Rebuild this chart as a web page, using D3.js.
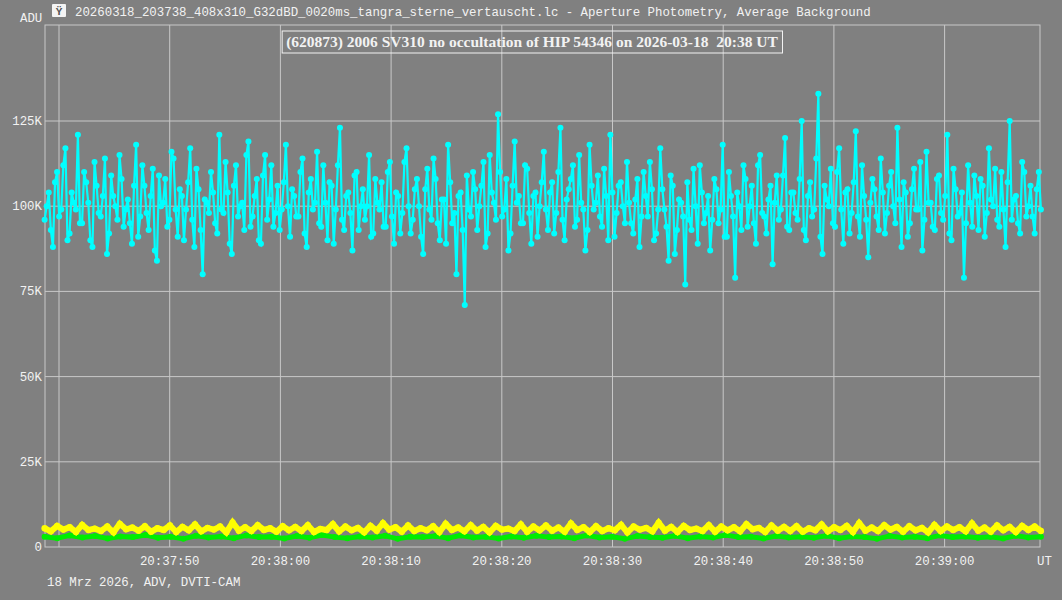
<!DOCTYPE html>
<html><head><meta charset="utf-8">
<script src="https://cdn.jsdelivr.net/npm/d3@7"></script>
<style>body{margin:0;background:#808080;}svg{display:block}</style>
</head><body><svg id="c" width="1062" height="600"></svg>
<script>
const startSec = 38.7;   // seconds after 20:37:00
const endSec = 128.7;
const cyanK = [
96,104,88,110,99,117,92,101,121,95,107,90,113,98,103,86,109,100,115,94,
102,89,118,97,106,93,111,84,100,108,96,114,91,103,99,117,88,105,80,101,
110,95,121,98,104,86,112,100,93,119,97,108,89,115,102,94,106,99,118,91,
103,97,114,88,108,101,95,112,90,106,99,123,93,104,87,110,100,96,115,92,
101,107,94,113,89,103,98,117,92,105,100,86,111,96,108,90,102,118,95,80,
104,71,99,110,93,106,88,115,101,127,97,108,92,119,103,95,111,89,104,100,
116,93,107,98,123,90,105,112,96,101,87,118,99,109,94,103,121,91,106,100,
113,95,102,88,110,97,105,92,117,99,84,106,93,101,77,96,111,89,104,98,
87,108,95,118,91,103,79,100,112,94,106,89,115,97,102,83,109,99,120,93,
104,96,125,90,107,99,133,86,102,111,94,117,89,105,98,122,91,103,85,108,
97,114,92,106,100,123,88,104,95,111,99,87,116,101,93,109,96,121,90,105,
98,79,112,94,103,108,91,117,100,96,110,88,125,102,95,113,97,106,92,110];
const cyanK2 = [
100,93,107,97,112,90,104,99,95,110,101,88,106,97,114,92,103,96,108,99,
95,106,91,112,98,103,87,109,101,94,116,99,105,90,107,96,111,93,102,98,
104,92,99,113,89,106,97,101,115,94,103,90,109,96,112,98,93,107,100,105,
97,110,92,104,99,116,94,101,107,89,112,96,103,98,109,93,105,100,91,108,
99,94,110,97,104,92,113,100,96,108,91,105,99,114,95,102,89,107,98,103,
93,109,97,105,100,113,92,104,96,110,99,87,106,101,95,112,98,103,91,107,
99,104,92,110,96,102,108,94,115,99,93,106,101,97,111,90,104,98,107,95,
101,92,108,97,103,113,90,99,105,94,109,86,102,97,107,93,100,112,95,103,
96,105,99,91,110,97,104,93,108,100,95,112,98,92,106,101,96,109,94,104,
98,108,93,103,97,114,91,106,100,95,110,99,104,92,107,97,112,96,101,105,
93,104,98,110,95,102,107,91,105,99,113,96,101,94,108,98,103,92,111,97,
104,95,101,109,93,106,98,102,111,94,99,107,96,103,92,110,100,97,105,99];
const yellowK = [
5.5,6.2,5.8,6.5,5.4,6.0,6.8,5.7,6.1,5.5,6.3,5.9,6.6,5.6,6.0,7.2,5.8,6.4,5.5,6.1,
5.9,6.4,5.3,6.7,6.0,5.6,6.2,7.0,5.8,6.3,5.5,6.1,6.8,5.7,6.4,5.9,6.2,5.4,6.6,6.0,
6.3,5.7,6.9,5.8,6.1,5.5,6.5,6.0,5.6,7.1,5.9,6.2,5.4,6.4,6.0,5.8,6.7,5.6,6.3,5.9,
6.1,5.5,6.6,5.8,6.2,7.0,5.7,6.4,5.9,6.1,5.6,6.5,6.0,5.8,6.9,5.7,6.3,5.9,6.2,6.0];
const yellowK2 = [
4.6,5.1,4.4,5.0,4.7,4.3,5.2,4.8,4.5,5.0,4.4,4.9,4.6,5.1,4.3,4.8,4.7,5.0,4.5,4.9,
4.7,4.4,5.0,4.6,4.9,4.3,4.8,5.1,4.5,4.7,4.9,4.4,5.0,4.6,4.8,4.3,5.1,4.7,4.5,4.9,
4.8,4.5,5.0,4.4,4.7,4.9,4.3,5.1,4.6,4.8,4.4,5.0,4.7,4.5,4.9,4.6,5.2,4.4,4.8,4.7,
4.5,4.9,4.6,5.0,4.4,4.8,4.7,5.1,4.5,4.9,4.3,4.7,5.0,4.6,4.8,4.5,4.9,4.4,5.0,4.7];
const greenK = [
3.0,2.6,3.4,2.8,3.2,2.5,3.1,2.9,3.5,2.7,3.0,2.4,3.3,2.8,3.1,2.6,3.4,2.9,3.0,2.5,
3.2,2.7,3.5,2.9,2.6,3.1,2.8,3.3,2.4,3.0,2.9,3.2,2.6,3.4,2.8,3.0,2.5,3.1,2.7,3.3,
2.9,3.1,2.6,3.4,2.8,3.0,2.4,3.2,2.9,2.7,3.3,2.6,3.1,2.8,3.5,2.9,3.0,2.5,3.2,2.8,
3.0,2.7,3.3,2.6,3.1,2.9,2.4,3.2,2.8,3.0,2.6,3.4,2.9,3.1,2.7,3.0,2.5,3.3,2.8,3.0];
const yTicks = [0,25,50,75,100,125];
const yTickLabels = ["0","25K","50K","75K","100K","125K"];
const xTicks = [40,50,60,70,80,90,100,110,120];
const xTickLabels = ["20:37:40","20:37:50","20:38:00","20:38:10","20:38:20","20:38:30","20:38:40","20:38:50","20:39:00"];
const titleFile = "20260318_203738_408x310_G32dBD_0020ms_tangra_sterne_vertauscht.lc - Aperture Photometry, Average Background";
const titleBox = "(620873) 2006 SV310 no occultation of HIP 54346 on 2026-03-18  20:38 UT";
const footer = "18 Mrz 2026, ADV, DVTI-CAM";

const svg = d3.select("#c");
const L=45,R=1040,T=25,B=547;
const y = d3.scaleLinear().domain([0,25]).range([B,B-85.2]);
const x = d3.scaleLinear().domain([40,50]).range([59,169.7]);
const mono = "'Liberation Mono','DejaVu Sans Mono',monospace";
const grid = "#c8c8c8", txt="#f2f2f2";

svg.append("g").selectAll("line").data(yTicks.slice(1)).join("line")
 .attr("x1",L).attr("x2",R).attr("y1",d=>y(d)).attr("y2",d=>y(d)).attr("stroke",grid);
svg.append("g").selectAll("line").data(xTicks).join("line")
 .attr("y1",T).attr("y2",B).attr("x1",d=>x(d)).attr("x2",d=>x(d)).attr("stroke",grid);
svg.append("rect").attr("x",L).attr("y",T).attr("width",R-L).attr("height",B-T).attr("fill","none").attr("stroke",grid);

function interleave(a,b){const o=[];for(let i=0;i<a.length;i++){o.push(a[i]);if(i<b.length)o.push(b[i]);}return o;}
function series(vals,color,r,w){
  const step=(endSec-startSec)/(vals.length-1);
  const pts=vals.map((v,i)=>[x(startSec+i*step),y(v)]);
  svg.append("path").attr("d",d3.line()(pts)).attr("fill","none").attr("stroke",color).attr("stroke-width",w);
  svg.append("g").selectAll("circle").data(pts).join("circle").attr("cx",d=>d[0]).attr("cy",d=>d[1]).attr("r",r).attr("fill",color);
}
series(greenK,"#00ee00",3,5);
series(interleave(yellowK,yellowK2),"#ffff00",3.2,6);
series(interleave(cyanK,cyanK2),"#00ffff",3,2.2);

svg.append("g").selectAll("text").data(yTicks).join("text")
 .attr("x",42).attr("y",d=>y(d)+4).attr("text-anchor","end").attr("font-family",mono).attr("font-size",12.4).attr("fill",txt)
 .text((d,i)=>yTickLabels[i]);
svg.append("g").selectAll("text").data(xTicks.slice(1)).join("text")
 .attr("x",d=>x(d)).attr("y",565).attr("text-anchor","middle").attr("font-family",mono).attr("font-size",12.4).attr("fill",txt)
 .text((d,i)=>xTickLabels[i+1]);
svg.append("text").attr("x",1037).attr("y",565).attr("font-family",mono).attr("font-size",12.4).attr("fill",txt).text("UT");
svg.append("text").attr("x",20).attr("y",22).attr("font-family",mono).attr("font-size",12.4).attr("fill",txt).text("ADU");
svg.append("text").attr("x",47).attr("y",586).attr("font-family",mono).attr("font-size",12.4).attr("fill",txt).text(footer);
svg.append("rect").attr("x",52).attr("y",4).attr("width",14).attr("height",13).attr("fill","#f4f4f4").attr("rx",1);
svg.append("text").attr("x",59).attr("y",15).attr("text-anchor","middle").attr("font-family",mono).attr("font-size",11).attr("font-weight","bold").attr("fill","#555").text("Ϋ");
svg.append("text").attr("x",75).attr("y",16).attr("font-family",mono).attr("font-size",12.4).attr("fill",txt).text(titleFile);
const tt = svg.append("text").attr("x",532).attr("y",47).attr("text-anchor","middle").attr("font-family","'Liberation Serif',serif")
 .attr("font-weight","bold").attr("font-size",15.5).attr("fill",txt).attr("xml:space","preserve").text(titleBox);
const bb = tt.node().getBBox();
svg.append("rect").attr("x",bb.x-4).attr("y",bb.y-2).attr("width",bb.width+8).attr("height",bb.height+4)
 .attr("fill","none").attr("stroke",txt);
</script></body></html>
